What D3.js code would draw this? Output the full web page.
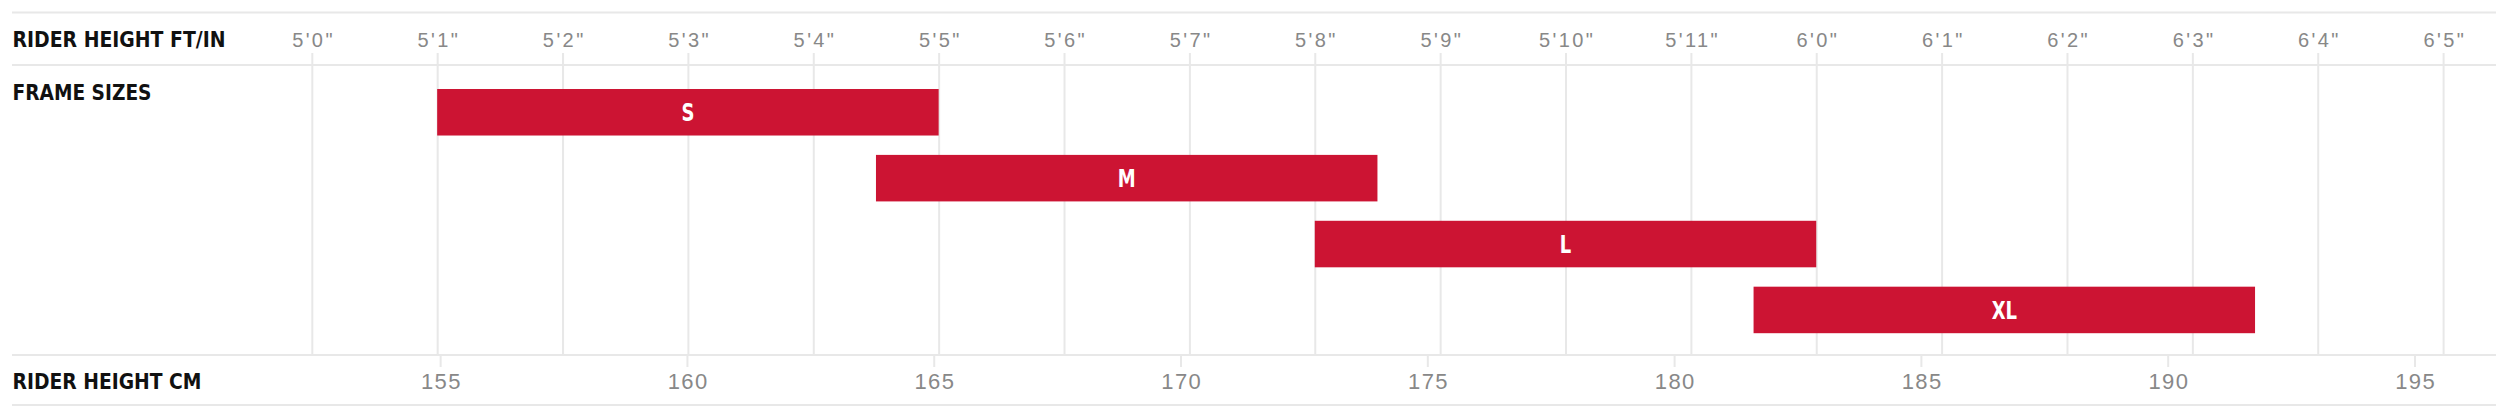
<!DOCTYPE html>
<head>
    <meta charset="utf-8">
    <style>
        body {
            margin: 0;
            padding: 0;
            background: #fff;
        }
        .row-label {
            font-family: "Liberation Sans Narrow", "DejaVu Sans Condensed", sans-serif;
            font-weight: bold;
            font-size: 21.5px;
            fill: #111;
        }
        .rule {
            stroke: #e8e8e8;
            stroke-width: 2;
        }
        .axis .domain {
            display: none;
        }
        .axis line {
            stroke: #e8e8e8;
            stroke-width: 2;
        }
        .axis text {
            font-family: "Liberation Sans", Arial, sans-serif;
            fill: #888;
        }
        .bar-label {
            font-family: "Liberation Sans Narrow", "DejaVu Sans Condensed", sans-serif;
            font-weight: bold;
            font-size: 25px;
            fill: #fff;
            text-anchor: middle;
        }
    </style>
    <script src="https://d3js.org/d3.v7.min.js"></script>
</head>
<body>
    <svg width="2506" height="416"></svg>
    <script>
        // data
        var sizes = ["S", "M", "L", "XL"];
        var minInches = [61, 64.5, 68, 71.5];
        var maxInches = [65, 68.5, 72, 75.5];
        var inchTicks = [60, 61, 62, 63, 64, 65, 66, 67, 68, 69, 70, 71, 72, 73, 74, 75, 76, 77];
        var inchLabels = ["5'0\"", "5'1\"", "5'2\"", "5'3\"", "5'4\"", "5'5\"", "5'6\"", "5'7\"", "5'8\"",
            "5'9\"", "5'10\"", "5'11\"", "6'0\"", "6'1\"", "6'2\"", "6'3\"", "6'4\"", "6'5\""];
        var cmTicks = [155, 160, 165, 170, 175, 180, 185, 190, 195];
        var rowLabels = ["RIDER HEIGHT FT/IN", "FRAME SIZES", "RIDER HEIGHT CM"];

        var svg = d3.select("svg");

        // scales (inches is the base unit, cm just converted)
        var x = d3.scaleLinear()
            .domain([60, 77])
            .range([311.8, 2443.1]);
        var xcm = d3.scaleLinear()
            .domain([60 * 2.54, 77 * 2.54])
            .range(x.range());
        var y = d3.scaleBand()
            .domain(sizes)
            .range([89, 333.2])
            .paddingInner(0.294)
            .paddingOuter(0);

        // horizontal rules
        svg.append("g")
            .selectAll("line")
            .data([12.5, 65, 355, 405])
            .enter().append("line")
                .attr("class", "rule")
                .attr("x1", 12)
                .attr("x2", 2496)
                .attr("y1", function (d) { return d; })
                .attr("y2", function (d) { return d; });

        // inch axis: labels on top, ticks run down as gridlines
        var inchAxis = svg.append("g")
            .attr("class", "axis")
            .attr("transform", "translate(0,53)")
            .call(d3.axisBottom(x)
                .tickValues(inchTicks)
                .tickSize(302)
                .tickFormat(function (d, i) { return inchLabels[i]; }));
        inchAxis.selectAll("text")
            .attr("y", -6.5)
            .attr("dy", 0)
            .attr("dx", 1.2)
            .style("font-size", "20px")
            .style("letter-spacing", "2.4px");

        // cm axis
        var cmAxis = svg.append("g")
            .attr("class", "axis")
            .attr("transform", "translate(0,355)")
            .call(d3.axisBottom(xcm)
                .tickValues(cmTicks)
                .tickSize(12));
        cmAxis.selectAll("text")
            .attr("y", 34)
            .attr("dy", 0)
            .attr("dx", 0.7)
            .style("font-size", "22px")
            .style("letter-spacing", "1.4px");

        // row labels, squeezed to the condensed width of the original
        svg.append("g")
            .selectAll("text")
            .data(rowLabels)
            .enter().append("text")
                .attr("class", "row-label")
                .attr("x", 12.5)
                .attr("y", function (d, i) { return [47.3, 100, 389][i]; })
                .attr("textLength", function (d, i) { return [213, 139, 189][i]; })
                .attr("lengthAdjust", "spacingAndGlyphs")
                .text(function (d) { return d; });

        // bars
        var bars = svg.append("g")
            .selectAll("g")
            .data(sizes)
            .enter().append("g");
        bars.append("rect")
            .attr("x", function (d, i) { return x(minInches[i]); })
            .attr("y", function (d) { return y(d); })
            .attr("width", function (d, i) { return x(maxInches[i]) - x(minInches[i]); })
            .attr("height", y.bandwidth())
            .attr("fill", "#cc1433");
        bars.append("text")
            .attr("class", "bar-label")
            .attr("x", function (d, i) { return (x(minInches[i]) + x(maxInches[i])) / 2; })
            .attr("y", function (d) { return y(d) + y.bandwidth() / 2 + 9; })
            .attr("transform", function (d, i) {
                var cx = (x(minInches[i]) + x(maxInches[i])) / 2;
                return "translate(" + cx + ",0) scale(0.8,1) translate(" + (-cx) + ",0)";
            })
            .text(function (d) { return d; });
    </script>
</body>
</html>
